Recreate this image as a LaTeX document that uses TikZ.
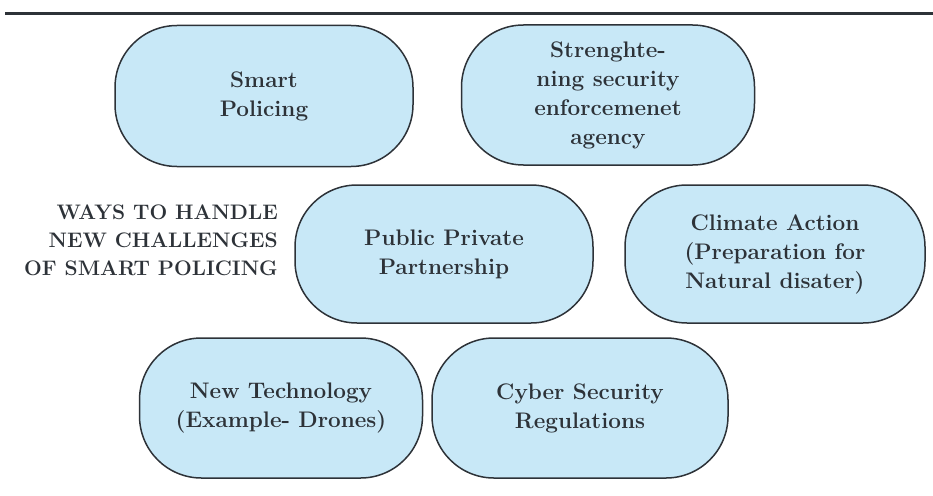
\documentclass[tikz,border=0pt]{standalone}
\usetikzlibrary{positioning}
\definecolor{pillblue}{RGB}{200,232,247}
\definecolor{inkgray}{RGB}{45,50,56}
\begin{document}
\begin{tikzpicture}[x=1pt, y=-1pt,
    pill/.style={draw=inkgray, line width=1.5pt, fill=pillblue, rounded corners=62pt,
        align=center, text=inkgray, inner sep=0pt,
        font=\fontsize{22.5}{29}\selectfont\bfseries},
    heading/.style={anchor=east, align=right, text=inkgray, inner sep=0pt,
        font=\fontsize{21}{28}\selectfont\bfseries}]
\useasboundingbox (0,0) rectangle (933,495);
\draw[line width=3pt, inkgray] (5,14) -- (933,14);
% top row
\node[pill, minimum width=298pt, minimum height=141pt] (smart) at (264,96) {Smart\\Policing};
\node[pill, minimum width=293pt, minimum height=140pt] (strength) at (608,95)
    {Strenghte-\\ning security\\enforcemenet\\agency};
% middle row
\node[heading] (ways) at (278,240) {WAYS TO HANDLE\\NEW CHALLENGES\\OF SMART POLICING};
\node[pill, minimum width=298pt, minimum height=138pt] (ppp) at (444,254) {Public Private\\Partnership};
\node[pill, minimum width=300pt, minimum height=138pt] (climate) at (775,254)
    {Climate Action\\(Preparation for\\Natural disater)};
% bottom row
\node[pill, minimum width=283pt, minimum height=140pt] (newtech) at (281,408) {New Technology\\(Example- Drones)};
\node[pill, minimum width=296pt, minimum height=140pt] (cyber) at (580,408) {Cyber Security\\Regulations};
\end{tikzpicture}
\end{document}
